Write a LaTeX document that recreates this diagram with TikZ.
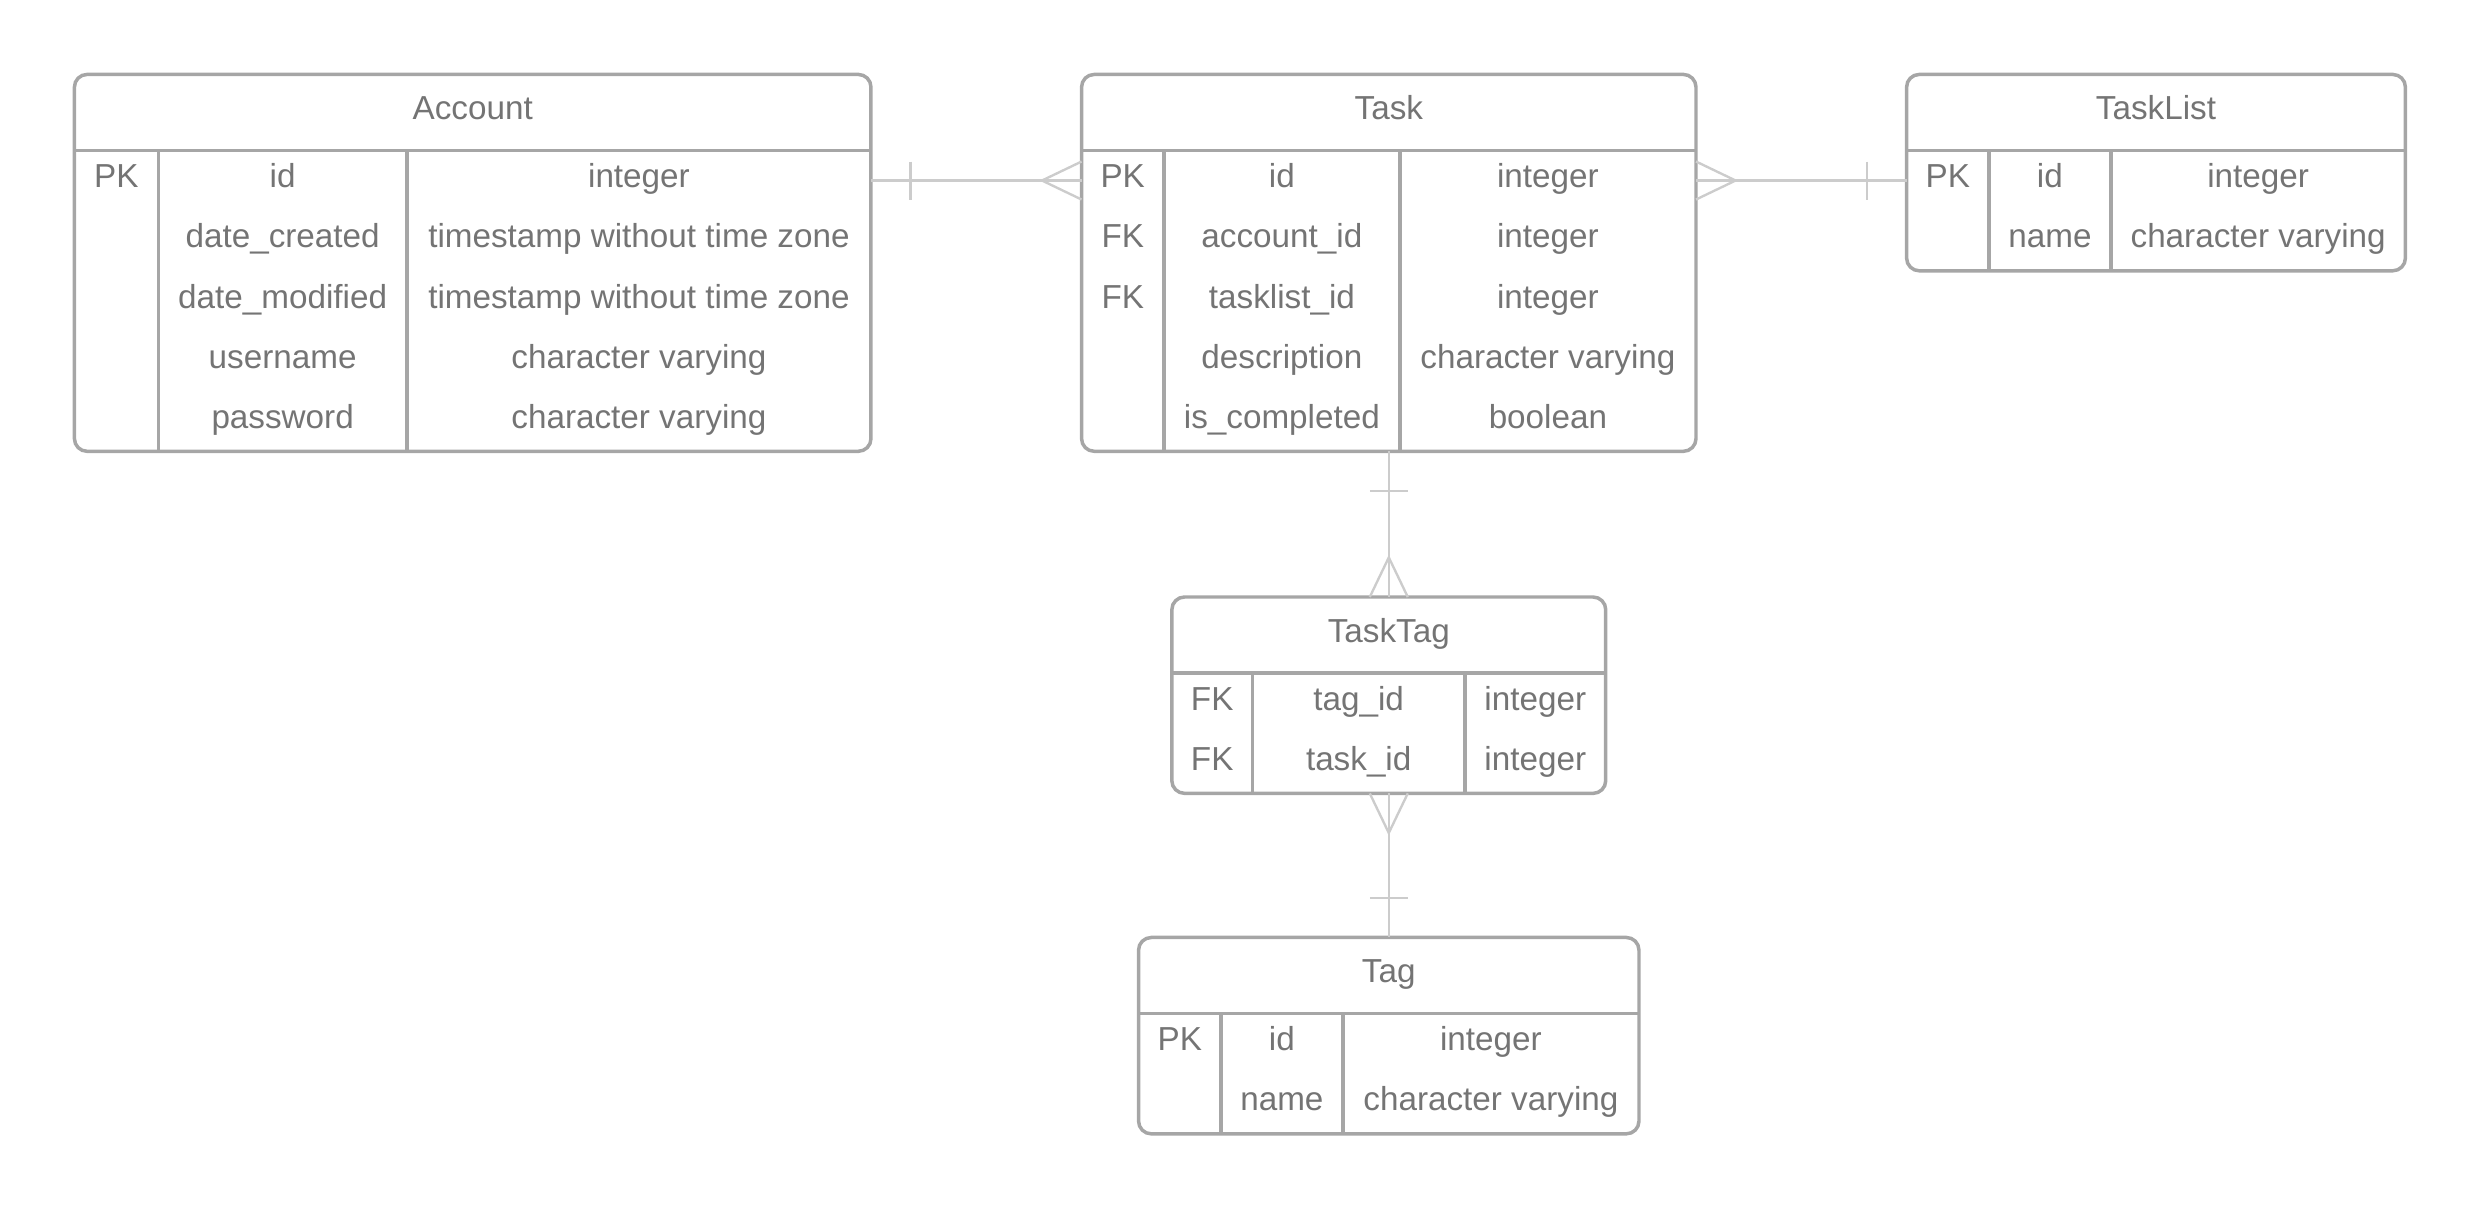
\documentclass[tikz,border=0pt]{standalone}
\usepackage{fontspec}
\setmainfont{Liberation Sans}
\usepackage{tikz}
\usetikzlibrary{matrix,calc,positioning}

\definecolor{txtgray}{HTML}{747474}
\definecolor{boxgray}{HTML}{A6A6A6}
\definecolor{linkgray}{HTML}{CCCCCC}
\newcommand{\tablefont}{\fontsize{21}{25}\selectfont}

\begin{document}
\begin{tikzpicture}[x=1pt, y=-1pt,
    table/.style={matrix of nodes, row sep=0pt, column sep=0pt, inner sep=0pt, outer sep=0pt, anchor=north west,
            nodes in empty cells, ampersand replacement=\&,
            nodes={shape=rectangle, minimum height=38pt, inner sep=0pt, outer sep=0pt, anchor=center,
                   text height=15pt, text depth=6pt, text=txtgray, font=\tablefont}},
    cols/.style n args={3}{column 1/.style={nodes={minimum width=#1}},
                           column 2/.style={nodes={minimum width=#2}},
                           column 3/.style={nodes={minimum width=#3}}},
    title/.style={inner sep=0pt, text height=15pt, text depth=6pt, text=txtgray, font=\tablefont},
    box/.style={draw=boxgray, line width=2.2pt},
    link/.style={draw=linkgray, line width=1.5pt}]
\useasboundingbox (0,0) rectangle (1568,763);

\matrix (account) [table, cols={53pt}{157pt}{293pt}] at (47,95) {
    PK  \& id            \& integer \\
        \& date\_created  \& timestamp without time zone \\
        \& date\_modified \& timestamp without time zone \\
        \& username      \& character varying \\
        \& password      \& character varying \\
};
\matrix (task) [table, cols={52pt}{149pt}{187pt}] at (683,95) {
    PK  \& id            \& integer \\
    FK  \& account\_id    \& integer \\
    FK  \& tasklist\_id   \& integer \\
        \& description   \& character varying \\
        \& is\_completed  \& boolean \\
};
\matrix (tasklist) [table, cols={52pt}{77pt}{186pt}] at (1204,95) {
    PK  \& id            \& integer \\
        \& name          \& character varying \\
};
\matrix (tasktag) [table, cols={51pt}{134pt}{89pt}] at (740,425) {
    FK  \& tag\_id        \& integer \\
    FK  \& task\_id       \& integer \\
};
\matrix (tag) [table, cols={52pt}{77pt}{187pt}] at (719,640) {
    PK  \& id            \& integer \\
        \& name          \& character varying \\
};

% table frames
\foreach \t/\n in {account/5, task/5, tasklist/2, tasktag/2, tag/2} {
    \draw[box, rounded corners=8pt] ([yshift=48pt]\t.north west) rectangle (\t.south east);
    \draw[box] (\t.north west) -- (\t.north east);
    \draw[box] (\t-1-2.north west) -- (\t-\n-2.south west);
    \draw[box] (\t-1-3.north west) -- (\t-\n-3.south west);
}

\node[title] (account-t)  at ([yshift=24pt]account.north)  {Account};
\node[title] (task-t)     at ([yshift=24pt]task.north)     {Task};
\node[title] (tasklist-t) at ([yshift=24pt]tasklist.north) {TaskList};
\node[title] (tasktag-t)  at ([yshift=24pt]tasktag.north)  {TaskTag};
\node[title] (tag-t)      at ([yshift=24pt]tag.north)      {Tag};

% Account -- Task
\draw[link] (account-1-3.east) -- (task-1-1.west);
\draw[link] ($(account-1-3.east)+(25,-12)$) -- +(0,24);
\draw[link] ([yshift=12pt]task-1-1.west) -- ($(task-1-1.west)+(-25,0)$) -- ([yshift=-12pt]task-1-1.west);

% Task -- TaskList
\draw[link] (task-1-3.east) -- (tasklist-1-1.west);
\draw[link] ($(tasklist-1-1.west)+(-25,-12)$) -- +(0,24);
\draw[link] ([yshift=12pt]task-1-3.east) -- ($(task-1-3.east)+(25,0)$) -- ([yshift=-12pt]task-1-3.east);

% Task -- TaskTag
\draw[link] (task.south) -- ([yshift=48pt]tasktag.north);
\draw[link] ($(task.south)+(-12,25)$) -- +(24,0);
\draw[link] ([xshift=-12pt,yshift=48pt]tasktag.north) -- ($([yshift=48pt]tasktag.north)+(0,-25)$) -- ([xshift=12pt,yshift=48pt]tasktag.north);

% TaskTag -- Tag
\draw[link] (tasktag.south) -- ([yshift=48pt]tag.north);
\draw[link] ($([yshift=48pt]tag.north)+(-12,-25)$) -- +(24,0);
\draw[link] ([xshift=-12pt]tasktag.south) -- ($(tasktag.south)+(0,25)$) -- ([xshift=12pt]tasktag.south);
\end{tikzpicture}
\end{document}
